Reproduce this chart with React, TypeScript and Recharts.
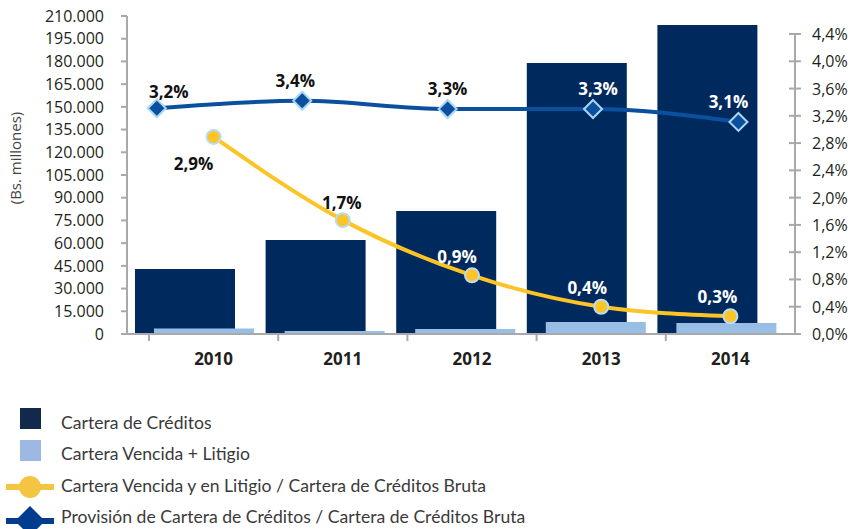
import React from 'react';
import { ComposedChart, Bar, Line, XAxis, YAxis, LabelList, Label } from 'recharts';

const years = ['2010', '2011', '2012', '2013', '2014'];
const carteraCreditos = [42900, 62100, 81200, 179000, 204000];
const carteraVencidaLitigio = [3600, 2000, 3300, 7900, 7300];
const ratioVencida = [2.89, 1.67, 0.86, 0.4, 0.26];
const ratioVencidaLabels = ['2,9%', '1,7%', '0,9%', '0,4%', '0,3%'];
const ratioProvision = [3.31, 3.42, 3.3, 3.3, 3.11];
const ratioProvisionLabels = ['3,2%', '3,4%', '3,3%', '3,3%', '3,1%'];
const leftTicks = [0, 15000, 30000, 45000, 60000, 75000, 90000, 105000, 120000, 135000, 150000, 165000, 180000, 195000, 210000];
const rightTicks = [0, 0.4, 0.8, 1.2, 1.6, 2.0, 2.4, 2.8, 3.2, 3.6, 4.0, 4.4];
const legendLabels = [
  'Cartera de Créditos',
  'Cartera Vencida + Litigio',
  'Cartera Vencida y en Litigio / Cartera de Créditos Bruta',
  'Provisión de Cartera de Créditos / Cartera de Créditos Bruta',
];

const W = 854;
const H = 529;
const PLOT_TOP = 16;
const PLOT_H = 318;
const RIGHT_MAX = 4.664;
const RIGHT_STEP_PX = (0.4 / RIGHT_MAX) * PLOT_H;

const DARK = '#002A5E';
const LIGHT = '#99BEE6';
const YELLOW = '#FDC425';
const BLUE = '#0B509E';
const AXIS = '#A7A9AC';
const TEXT = '#231F20';
const FONT = '"Open Sans", sans-serif';

const data = years.map((y, i) => ({
  year: y,
  yearNum: Number(y),
  cartera: carteraCreditos[i],
  vencida: carteraVencidaLitigio[i],
  ratioV: ratioVencida[i],
  ratioP: ratioProvision[i],
}));

const fmtLeft = (v: number) => String(v).replace(/\B(?=(\d{3})+(?!\d))/g, '.');
const fmtRight = (v: number) => v.toFixed(1).replace('.', ',') + '%';

const RightTick = (props: any) => {
  const { x, y, payload } = props;
  const ax = x - 17;
  return (
    <g>
      {payload.value > 0 && (
        <line x1={ax} x2={ax} y1={y} y2={y + RIGHT_STEP_PX} stroke={AXIS} strokeWidth={2} />
      )}
      <line x1={ax - 6} x2={ax + 6} y1={y} y2={y} stroke={AXIS} strokeWidth={2} />
      <text x={x} y={y} dominantBaseline="central" fontFamily={FONT} fontSize={16} fill={TEXT}>
        {fmtRight(payload.value)}
      </text>
    </g>
  );
};

const XTick = (props: any) => {
  const { x, y, payload } = props;
  const half = payload.offset ?? 64.6;
  return (
    <g>
      <line x1={x - half} x2={x - half} y1={y} y2={y + 7} stroke={AXIS} strokeWidth={2} />
      <text x={x} y={y + 31} textAnchor="middle" fontFamily={FONT} fontWeight={700} fontSize={17} fill={TEXT}>
        {payload.value}
      </text>
    </g>
  );
};

const yellowOffsets = [[-20, 27], [-1, -18], [-15, -19], [-14, -19], [-13, -20]];
const blueOffsets = [[12, -17], [-7, -20], [0, -21], [5, -21], [-10, -20]];

const makeLabel = (texts: string[], offsets: number[][], whiteFrom: number) => (p: any) => {
  const x = p.viewBox?.x ?? p.x;
  const y = p.viewBox?.y ?? p.y;
  const i = p.index;
  const off = offsets[i];
  return (
    <text
      x={x + off[0]}
      y={y + off[1]}
      textAnchor="middle"
      dominantBaseline="central"
      fontFamily={FONT}
      fontWeight={700}
      fontSize={17}
      fill={i >= whiteFrom ? '#FFFFFF' : '#111111'}
    >
      {texts[i]}
    </text>
  );
};

const YellowDot = (p: any) => (
  <circle key={`yd-${p.index}`} cx={p.cx} cy={p.cy} r={7} fill={YELLOW} stroke="#B7DCF3" strokeWidth={2} />
);

const BlueDot = (p: any) => {
  const s = 9;
  const { cx, cy } = p;
  return (
    <polygon
      key={`bd-${p.index}`}
      points={`${cx},${cy - s} ${cx + s},${cy} ${cx},${cy + s} ${cx - s},${cy}`}
      fill={BLUE}
      stroke="#A9D6F2"
      strokeWidth={2}
    />
  );
};

const Legend = () => (
  <svg width={W} height={H - 395} style={{ position: 'absolute', left: 0, top: 395 }}>
    <g transform="translate(0,-395)">
      <rect x={20} y={408} width={21} height={21} fill="#13294B" />
      <rect x={20} y={440} width={21} height={21} fill="#9DB9E3" />
      <line x1={6} x2={54} y1={487} y2={487} stroke="#F4C542" strokeWidth={6} />
      <circle cx={30} cy={487} r={11} fill="#F4C542" />
      <line x1={6} x2={54} y1={521} y2={521} stroke="#003D8F" strokeWidth={6} />
      <polygon points="30,506 45,521 30,536 15,521" fill="#003D8F" />
      {legendLabels.map((t, i) => (
        <text key={t} x={61} y={429 + i * 31.3} fontFamily='Lato, sans-serif' fontSize={17.6} fill="#3A3A3A">
          {t}
        </text>
      ))}
    </g>
  </svg>
);

export default function App() {
  return (
    <div style={{ position: 'absolute', left: 0, top: 0, width: W, height: H, background: '#fff' }}>
      <ComposedChart
        width={W}
        height={H}
        data={data}
        margin={{ top: PLOT_TOP, right: 0, bottom: H - PLOT_TOP - PLOT_H - 30, left: 0 }}
        barGap={-81}
      >
        <XAxis
          xAxisId="main"
          dataKey="year"
          type="category"
          height={30}
          padding={{ left: 22, right: 0 }}
          axisLine={{ stroke: AXIS, strokeWidth: 2 }}
          tickLine={false}
          tickSize={0}
          tickMargin={0}
          tick={<XTick />}
          interval={0}
        />
        <XAxis xAxisId="bars" dataKey="year" type="category" hide height={0} padding={{ left: 2, right: 13 }} />
        <XAxis
          xAxisId="blue"
          dataKey="yearNum"
          type="number"
          hide
          height={0}
          domain={[2009.795, 2014.389]}
          allowDataOverflow
        />
        <YAxis
          yAxisId="left"
          orientation="left"
          width={127}
          domain={[0, 210000]}
          ticks={leftTicks}
          interval={0}
          tickFormatter={fmtLeft}
          axisLine={{ stroke: AXIS, strokeWidth: 2 }}
          tickLine={{ stroke: AXIS, strokeWidth: 2 }}
          tickSize={6}
          tickMargin={17}
          tick={{ fill: TEXT, fontFamily: FONT, fontSize: 16 }}
        >
          <Label
            content={(p: any) => {
              const vb = p.viewBox;
              const cx = vb.x + 15;
              const cy = vb.y + 142;
              return (
                <text
                  x={cx}
                  y={cy}
                  transform={`rotate(-90, ${cx}, ${cy})`}
                  textAnchor="middle"
                  dominantBaseline="central"
                  fontFamily={FONT}
                  fontSize={15}
                  fill="#444"
                >
                  (Bs. millones)
                </text>
              );
            }}
          />
        </YAxis>
        <YAxis
          yAxisId="right"
          orientation="right"
          width={59}
          domain={[0, RIGHT_MAX]}
          ticks={rightTicks}
          interval={0}
          axisLine={false}
          tickLine={false}
          tickSize={0}
          tickMargin={17}
          tick={<RightTick />}
        />
        <Bar xAxisId="bars" yAxisId="left" dataKey="cartera" fill={DARK} barSize={100} isAnimationActive={false} />
        <Bar xAxisId="bars" yAxisId="left" dataKey="vencida" fill={LIGHT} barSize={100} isAnimationActive={false} />
        <Line
          xAxisId="blue"
          yAxisId="right"
          dataKey="ratioP"
          type="monotone"
          stroke={BLUE}
          strokeWidth={4}
          dot={BlueDot}
          activeDot={false}
          isAnimationActive={false}
        >
          <LabelList dataKey="ratioP" content={makeLabel(ratioProvisionLabels, blueOffsets, 3)} />
        </Line>
        <Line
          xAxisId="main"
          yAxisId="right"
          dataKey="ratioV"
          type="monotone"
          stroke={YELLOW}
          strokeWidth={4}
          dot={YellowDot}
          activeDot={false}
          isAnimationActive={false}
        >
          <LabelList dataKey="ratioV" content={makeLabel(ratioVencidaLabels, yellowOffsets, 2)} />
        </Line>
      </ComposedChart>
      <Legend />
    </div>
  );
}
